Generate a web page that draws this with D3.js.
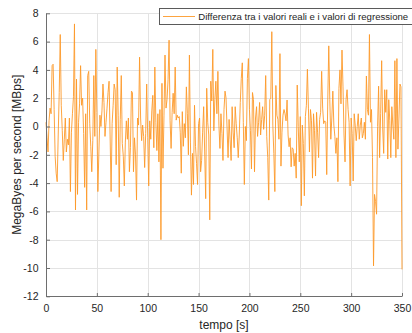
<!DOCTYPE html>
<html>
<head>
<meta charset="utf-8">
<script src="https://cdn.jsdelivr.net/npm/d3@7"></script>
<style>
  html, body { margin: 0; padding: 0; background: #fff; }
  svg { display: block; font-family: "Liberation Sans", Arial, sans-serif; }
</style>
</head>
<body>
<svg id="chart" width="412" height="333"></svg>
<script>
// Residuals: measured throughput minus regression fit, one sample per second
const residuals = [
  0.3, -0.8, -1.8, 0.4, 1.3, 0.9, 4.3, 4.4, 1.2, -2.1,
  -3.3, -3.9, -0.6, 2.4, 6.5, 1.5, -0.3, -2.4, -0.9, 0.6,
  -1.8, -0.9, -1.3, 0.6, -4.6, -0.4, 0.9, 2.1, 7.25, -5.9,
  3.35, -4.8, 0.3, 1.6, 4.3, 1.5, 2.0, -0.5, -4.3, 0.9,
  -5.9, 3.6, 3.9, 0.2, -1.4, -3.2, -1.0, 3.6, -0.7, 5.45,
  1.0, -4.6, -1.8, 0.8, 0.0, 1.1, 3.0, 1.7, -0.7, 0.3,
  1.3, 2.4, 3.2, -0.6, -4.6, 0.2, 1.5, 3.0, 2.6, -2.7,
  4.2, 0.8, -5.0, 0.5, 3.6, -1.2, -2.1, -4.2, -1.1, 0.4,
  -0.9, 0.6, -3.2, -1.5, 2.5, 2.4, -3.2, -0.8, -2.0, -5.2,
  0.6, 0.1, 4.9, 0.6, -1.0, 0.1, -0.7, -2.9, -0.5, 3.0,
  -0.8, -4.2, 0.4, -0.9, 1.1, 2.2, -1.5, 4.2, 0.3, -1.7,
  0.9, -2.5, 1.2, -8.0, 3.05, -2.95, 0.8, 5.05, 1.3, 1.9,
  3.3, 6.1, 0.4, -1.55, 1.0, 2.35, 0.9, 4.2, 0.45, 0.8,
  0.6, 0.7, -0.4, -3.3, 1.05, -1.4, 0.2, -0.8, 2.8, 0.9,
  -2.0, 5.05, -1.1, -4.85, -1.9, -4.1, 1.5, -1.4, -2.6, -4.1,
  0.2, 0.6, -3.2, -2.4, -0.4, 1.4, -1.8, -5.1, 2.7, 0.3,
  -0.6, -6.6, 3.2, 1.8, 5.45, -0.3, 1.9, 3.2, 0.9, 3.9,
  0.1, -1.55, 0.9, -0.5, -2.4, 1.2, 2.5, 2.0, -0.1, -2.2,
  0.5, -0.9, -2.4, 1.4, -0.4, -1.5, 1.4, 0.2, -0.8, -2.2,
  -0.6, 1.7, 3.4, 4.5, 0.3, -4.1, 0.0, -1.0, 3.4, 4.8,
  1.2, -0.3, -3.0, 2.4, 1.9, -3.2, 0.6, 1.4, -0.7, 0.3,
  1.7, -0.6, 0.5, 1.4, -0.2, 0.8, 3.6, -0.7, -2.2, -5.2,
  1.9, 2.0, 6.7, 0.1, -1.9, -4.6, 2.9, 0.8, 0.5, -0.9,
  5.15, -2.8, -0.4, 0.8, 1.2, 0.9, 0.4, 1.87, -0.6, -1.43,
  -0.8, -2.85, -1.5, -1.6, -2.8, -1.9, -3.65, 2.93, 0.0, -2.5,
  0.7, -5.6, 0.1, -1.2, -4.9, 0.7, 1.5, 4.05, 1.3, -1.8,
  1.2, 0.4, -3.65, 0.9, -0.3, -3.5, 1.0, -0.4, -2.2, 0.5,
  1.0, 3.9, 1.3, 0.2, 0.4, 0.3, -3.4, 1.8, 5.7, 1.9,
  -0.9, 0.6, 2.5, 0.1, -0.7, -1.9, -0.8, -3.9, 2.7, 4.0,
  1.6, 5.4, 2.8, -0.6, -2.5, 1.9, 2.6, 1.2, 0.3, -4.2,
  0.6, -0.5, -3.85, 0.9, 0.1, -1.0, 0.0, 0.9, -0.9, 0.1,
  0.6, -0.8, -0.5, 0.3, -0.9, 3.57, 1.2, 0.8, 6.5, 0.3,
  1.2, -2.2, -9.85, -4.8, -5.3, -6.2, 0.0, 2.85, -2.2, 0.9,
  4.65, -0.1, -1.9, 2.6, 1.0, 2.6, -2.3, 1.9, 0.4, -2.2,
  1.4, 0.1, -0.9, 4.65, -2.2, 4.8, -1.6, 0.6, 3.0, 2.8,
  -10.1
];
// Time stamps in seconds
const seconds = d3.range(residuals.length);

const xTicks = [0, 50, 100, 150, 200, 250, 300, 350];
const yTicks = [-12, -10, -8, -6, -4, -2, 0, 2, 4, 6, 8];
const xLabel = "tempo [s]";
const yLabel = "MegaByes per second [MBps]";
const seriesName = "Differenza tra i valori reali e i valori di regressione";

const svg = d3.select("#chart");
const plotLeft = 46, plotRight = 402, plotTop = 13.3, plotBottom = 296.3;

const x = d3.scaleLinear().domain([0, 350]).range([plotLeft, plotRight]);
const y = d3.scaleLinear().domain([-12, 8]).range([plotBottom, plotTop]);

// grid
const grid = svg.append("g").attr("stroke", "#e3e3e3").attr("stroke-width", 1);
grid.selectAll("line.gx").data(xTicks.slice(1)).join("line")
  .attr("x1", d => Math.round(x(d)) + 0.5).attr("x2", d => Math.round(x(d)) + 0.5)
  .attr("y1", plotTop).attr("y2", plotBottom);
grid.selectAll("line.gy").data(yTicks.slice(1)).join("line")
  .attr("y1", d => Math.round(y(d)) + 0.5).attr("y2", d => Math.round(y(d)) + 0.5)
  .attr("x1", plotLeft).attr("x2", plotRight);

// residual series
const line = d3.line()
  .x((d, i) => x(seconds[i]))
  .y(d => y(d));
svg.append("path")
  .datum(residuals)
  .attr("fill", "none")
  .attr("stroke", "#fd9a2a")
  .attr("stroke-width", 0.9)
  .attr("stroke-linejoin", "round")
  .attr("d", line);

// axes (ticks drawn inward)
const axisColor = "#6e6e6e";
const textColor = "#262626";
const xAxis = svg.append("g")
  .attr("transform", `translate(0,${Math.round(plotBottom) + 0.5})`)
  .call(d3.axisBottom(x).tickValues(xTicks).tickSize(-3.5).tickPadding(8.5).tickFormat(d3.format("d")));
const yAxis = svg.append("g")
  .attr("transform", `translate(${plotLeft + 0.5},0)`)
  .call(d3.axisLeft(y).tickValues(yTicks).tickSize(-3.5).tickPadding(8).tickFormat(d => d < 0 ? "-" + Math.abs(d) : String(d)));

[xAxis, yAxis].forEach(g => {
  g.select(".domain").attr("stroke", axisColor).attr("stroke-width", 1);
  g.selectAll(".tick line").attr("stroke", axisColor);
  g.selectAll(".tick text")
    .attr("fill", textColor)
    .style("font-size", "10.5px")
    .style("font-family", '"Liberation Sans", Arial, sans-serif');
});
yAxis.select(".domain").attr("d", `M0,${plotBottom}V${plotTop}`);
xAxis.select(".domain").attr("d", `M${plotLeft},0H${plotRight}`);

// axis titles
svg.append("text")
  .attr("x", (plotLeft + plotRight) / 2).attr("y", 328.5)
  .attr("text-anchor", "middle")
  .attr("fill", textColor)
  .style("font-size", "12px")
  .text(xLabel);
svg.append("text")
  .attr("transform", `translate(21,${(plotTop + plotBottom) / 2}) rotate(-90)`)
  .attr("text-anchor", "middle")
  .attr("fill", textColor)
  .style("font-size", "12px")
  .text(yLabel);

// legend
const legend = svg.append("g");
legend.append("rect")
  .attr("x", 159.5).attr("y", 8.5).attr("width", 270).attr("height", 16)
  .attr("fill", "#fff").attr("stroke", "#5a5a5a").attr("stroke-width", 1);
legend.append("line")
  .attr("x1", 163).attr("x2", 195).attr("y1", 16.5).attr("y2", 16.5)
  .attr("stroke", "#fd9a2a").attr("stroke-width", 0.9);
legend.append("text")
  .attr("x", 198.3).attr("y", 20.4)
  .attr("fill", textColor)
  .style("font-size", "9.6px")
  .text(seriesName);
</script>
</body>
</html>
